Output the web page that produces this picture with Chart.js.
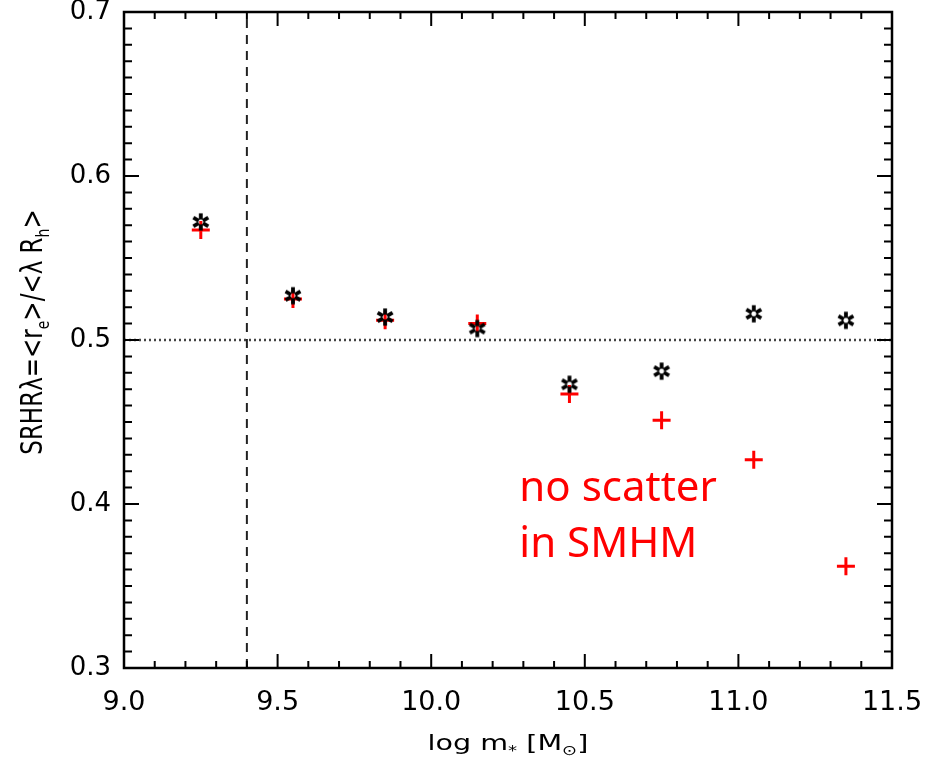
<!DOCTYPE html>
<html>
<head>
<meta charset="utf-8">
<title>SRHR vs stellar mass</title>
<script src="https://cdn.jsdelivr.net/npm/chart.js@4/dist/chart.umd.min.js"></script>
<style>
  html, body { margin:0; padding:0; background:#fff; }
  #c { display:block; }
</style>
</head>
<body>
<canvas id="c" width="929" height="757"></canvas>
<script>
// stellar mass bins (log m*)
const massBins       = [9.25, 9.55, 9.85, 10.15, 10.45, 10.75, 11.05, 11.35];
// SRHR with scatter in SMHM (black asterisks)
const srhrScatter    = [0.572, 0.527, 0.514, 0.507, 0.473, 0.481, 0.516, 0.512];
// SRHR without scatter in SMHM (red crosses)
const srhrNoScatter  = [0.567, 0.525, 0.512, 0.510, 0.467, 0.451, 0.427, 0.362];

const xRange = [9.0, 11.5];
const yRange = [0.3, 0.7];
const xMajor = 0.5, xMinor = 0.1;
const yMajor = 0.1, yMinor = 0.01;
const massCut  = 9.4;   // vertical dashed line
const refLevel = 0.5;   // horizontal dotted line

const noteLines = ['no scatter', 'in SMHM'];
const noteAt = { x: 10.287, y: 0.402 };   // baseline of first line

const FONT = '"DejaVu Sans", sans-serif';

function pts(xs, ys){ return xs.map((x,i)=>({ x, y: ys[i] })); }

// asterisk marker (6 arms, hollow centre, like IDL psym=2)
function makeAsterisk(){
  const cv = document.createElement('canvas');
  cv.width = 22; cv.height = 22;
  const g = cv.getContext('2d');
  g.strokeStyle = '#000'; g.lineWidth = 3.8; g.lineCap = 'butt';
  [90, 30, 150, 270, 210, 330].forEach(a=>{
    const r = a*Math.PI/180, c = Math.cos(r), s = Math.sin(r);
    g.beginPath(); g.moveTo(11 + c*2.4, 11 + s*2.4); g.lineTo(11 + c*8.6, 11 + s*8.6); g.stroke();
  });
  return cv;
}

// draw a run of text pieces with subscripts, left to right from (x,y) baseline
function drawRich(ctx, parts, x, y, size){
  parts.forEach(p=>{
    const fs = p.sub ? Math.round(size*0.62) : size;
    ctx.font = `${fs}px ${FONT}`;
    ctx.fillText(p.t, x, y + (p.sub ? size*0.22 : 0));
    x += ctx.measureText(p.t).width;
  });
}
function richWidth(ctx, parts, size){
  let w = 0;
  parts.forEach(p=>{
    const fs = p.sub ? Math.round(size*0.62) : size;
    ctx.font = `${fs}px ${FONT}`;
    w += ctx.measureText(p.t).width;
  });
  return w;
}

const xTitle = [{t:'log m'},{t:'*',sub:true},{t:' [M'},{t:'⊙',sub:true},{t:']'}];
const yTitle = [{t:'SRHRλ=<r'},{t:'e',sub:true},{t:'>/<λ R'},{t:'h',sub:true},{t:'>'}];

const framePlugin = {
  id: 'frame',
  afterDraw(chart){
    const { ctx, chartArea: a, scales: { x, y } } = chart;
    ctx.save();
    ctx.strokeStyle = '#000';
    ctx.lineWidth = 2.5;
    ctx.strokeRect(a.left, a.top, a.right - a.left, a.bottom - a.top);

    ctx.lineWidth = 2;
    ctx.beginPath();
    const nx = Math.round((xRange[1]-xRange[0])/xMinor);
    for (let i=0;i<=nx;i++){
      const v = xRange[0] + i*xMinor;
      const px = x.getPixelForValue(v);
      const len = (i % Math.round(xMajor/xMinor) === 0) ? 14 : 7;
      ctx.moveTo(px, a.bottom); ctx.lineTo(px, a.bottom - len);
      ctx.moveTo(px, a.top);    ctx.lineTo(px, a.top + len);
    }
    const ny = Math.round((yRange[1]-yRange[0])/yMinor);
    for (let i=0;i<=ny;i++){
      const v = yRange[0] + i*yMinor;
      const py = y.getPixelForValue(v);
      const len = (i % Math.round(yMajor/yMinor) === 0) ? 15 : 8;
      ctx.moveTo(a.left, py);  ctx.lineTo(a.left + len, py);
      ctx.moveTo(a.right, py); ctx.lineTo(a.right - len, py);
    }
    ctx.stroke();

    // note text
    ctx.fillStyle = '#ff0000';
    ctx.font = '42px "Noto Sans", sans-serif';
    ctx.textBaseline = 'alphabetic';
    const nx0 = x.getPixelForValue(noteAt.x), ny0 = y.getPixelForValue(noteAt.y);
    noteLines.forEach((s,i)=> ctx.fillText(s, nx0, ny0 + i*56));

    // axis titles (glyphs a bit wider than tall, as in the source figure)
    ctx.fillStyle = '#000';
    const xs = 22, stretch = 1.3;
    ctx.save();
    ctx.translate((a.left + a.right)/2, 750);
    ctx.scale(stretch, 1);
    const xw = richWidth(ctx, xTitle, xs);
    drawRich(ctx, xTitle, -xw/2, 0, xs);
    ctx.restore();

    const ys = 23;
    ctx.save();
    ctx.translate(42, 332);
    ctx.rotate(-Math.PI/2);
    ctx.scale(1, stretch);
    const yw = richWidth(ctx, yTitle, ys);
    drawRich(ctx, yTitle, -yw/2, 0, ys);
    ctx.restore();

    ctx.restore();
  }
};

// drop the label overhang padding so the plot frame sits where the figure has it
function fixBox(size){
  return s => {
    if (s.isHorizontal()) s.height = size; else s.width = size;
    s.paddingTop = 0; s.paddingBottom = 0; s.paddingLeft = 0; s.paddingRight = 0;
  };
}

new Chart(document.getElementById('c'), {
  type: 'scatter',
  data: {
    datasets: [
      {
        label: 'with scatter',
        data: pts(massBins, srhrScatter),
        pointStyle: makeAsterisk(),
        pointRadius: 11,
        order: 0
      },
      {
        label: 'no scatter',
        data: pts(massBins, srhrNoScatter),
        pointStyle: 'cross',
        pointRadius: 9,
        borderColor: '#ff0000',
        borderWidth: 3,
        order: 1
      },
      {
        label: 'mass cut',
        data: [{x:massCut, y:yRange[0]}, {x:massCut, y:yRange[1]}],
        showLine: true,
        pointRadius: 0,
        borderColor: '#222',
        borderWidth: 2,
        borderDash: [9, 7],
        order: 2
      },
      {
        label: 'SRHR = 0.5',
        data: [{x:xRange[0], y:refLevel}, {x:xRange[1], y:refLevel}],
        showLine: true,
        pointRadius: 0,
        borderColor: '#444',
        borderWidth: 2.5,
        borderDash: [2, 3],
        order: 3
      }
    ]
  },
  options: {
    responsive: false,
    animation: false,
    layout: { padding: { left: 0, top: 10, right: 37, bottom: 0 } },
    plugins: { legend: { display: false }, tooltip: { enabled: false } },
    scales: {
      x: {
        type: 'linear',
        min: xRange[0], max: xRange[1],
        grid: { display: false, drawTicks: false },
        border: { display: false },
        ticks: {
          stepSize: xMajor,
          padding: 19,
          color: '#000',
          font: { family: FONT, size: 27 },
          callback: v => Number(v).toFixed(1)
        },
        afterFit: fixBox(89)
      },
      y: {
        type: 'linear',
        min: yRange[0], max: yRange[1],
        grid: { display: false, drawTicks: false },
        border: { display: false },
        ticks: {
          stepSize: yMajor,
          padding: 13,
          color: '#000',
          font: { family: FONT, size: 26 },
          callback: v => Number(v).toFixed(1)
        },
        afterFit: fixBox(124)
      }
    }
  },
  plugins: [framePlugin]
});
</script>
</body>
</html>
